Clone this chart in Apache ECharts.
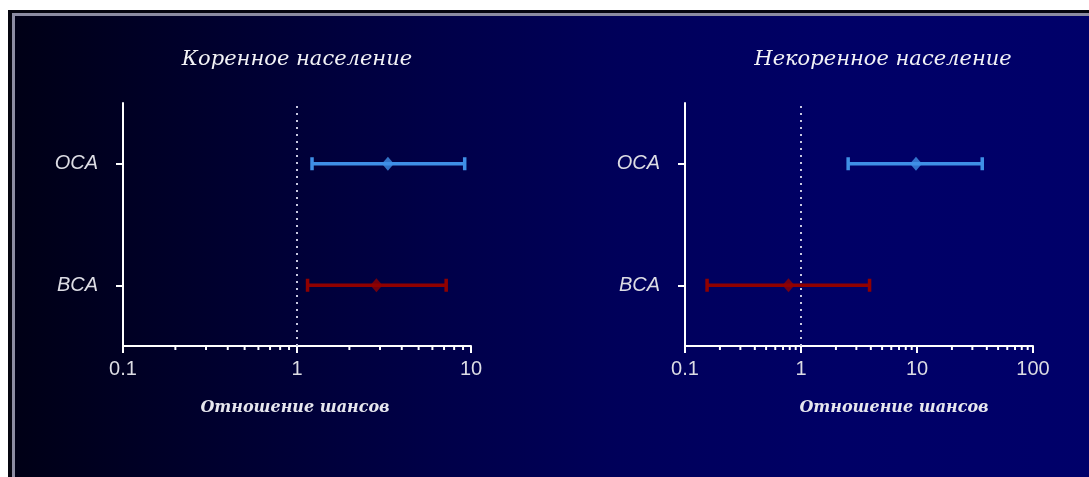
<!DOCTYPE html>
<html>
<head>
<meta charset="utf-8">
<script src="https://cdn.jsdelivr.net/npm/echarts@6/dist/echarts.min.js"></script>
<style>
  html, body { margin: 0; padding: 0; width: 1089px; height: 477px; overflow: hidden; background: #ffffff; }
  #frame { position: absolute; left: 8px; top: 10px; width: 1100px; height: 480px; background: #05050f; }
  #panel {
    position: absolute; left: 12px; top: 13px; width: 1100px; height: 480px;
    border-left: 3px solid #8c8ca2; border-top: 3px solid #8c8ca2;
    background: linear-gradient(to right, #000016 0%, #00002e 18%, #000048 38%, #00005a 55%, #000066 75%, #00006a 100%);
  }
  #chart { position: absolute; left: 0; top: 0; width: 1089px; height: 477px; }
</style>
</head>
<body>
<div id="frame"></div>
<div id="panel"></div>
<div id="chart"></div>
<script>
// Odds ratios with 95% CI, rows listed bottom to top
const categories = ['BCA', 'OCA'];

// Коренное население
const nativeOR = [2.86, 3.33];
const nativeLow = [1.15, 1.22];
const nativeHigh = [7.2, 9.2];

// Некоренное население
const nonNativeOR = [0.78, 9.8];
const nonNativeLow = [0.155, 2.55];
const nonNativeHigh = [3.9, 36.5];

// log axis ranges and the minor tick values between decades
const leftRange = [0.1, 10];
const rightRange = [0.1, 100];
const leftMinorTicks = [0.2, 0.3, 0.4, 0.5, 0.6, 0.7, 0.8, 0.9, 2, 3, 4, 5, 6, 7, 8, 9];
const rightMinorTicks = [0.2, 0.3, 0.4, 0.5, 0.6, 0.7, 0.8, 0.9, 2, 3, 4, 5, 6, 7, 8, 9,
                         20, 30, 40, 50, 60, 70, 80, 90];

const titles = ['Коренное население', 'Некоренное население'];
const axisTitle = 'Отношение шансов';

const rowColors = { BCA: '#900000', OCA: '#3f8fe6' };
const labelColor = '#dcdce4';
const sansFont = '"Liberation Sans", Arial, sans-serif';
const serifFont = '"DejaVu Serif", "Liberation Serif", serif';

const chart = echarts.init(document.getElementById('chart'), null, { renderer: 'canvas' });

function xAxisFor(gridIndex, range) {
  return {
    type: 'log', logBase: 10, gridIndex, min: range[0], max: range[1],
    axisLine: { show: true, lineStyle: { color: '#ffffff', width: 2 } },
    axisTick: { show: true, length: 7, lineStyle: { color: '#ffffff', width: 2 } },
    axisLabel: { color: labelColor, fontFamily: sansFont, fontSize: 20, margin: 13 },
    splitLine: { show: false },
    minorTick: { show: false }
  };
}

function yAxisFor(gridIndex) {
  return {
    type: 'category', gridIndex, data: categories,
    axisLine: { show: true, lineStyle: { color: '#ffffff', width: 2 } },
    axisTick: { show: true, alignWithLabel: true, length: 7, lineStyle: { color: '#ffffff', width: 2 } },
    axisLabel: { color: labelColor, fontFamily: sansFont, fontStyle: 'italic', fontSize: 20, margin: 25 },
    splitLine: { show: false }
  };
}

// horizontal CI whisker with end caps
function ciRenderer(params, api) {
  const row = api.value(2);
  const p1 = api.coord([api.value(0), row]);
  const p2 = api.coord([api.value(1), row]);
  const color = rowColors[categories[row]];
  const cap = 6.5;
  const style = { stroke: color, lineWidth: 3.5 };
  return {
    type: 'group',
    children: [
      { type: 'line', shape: { x1: p1[0], y1: p1[1], x2: p2[0], y2: p2[1] }, style },
      { type: 'line', shape: { x1: p1[0], y1: p1[1] - cap, x2: p1[0], y2: p1[1] + cap }, style },
      { type: 'line', shape: { x1: p2[0], y1: p2[1] - cap, x2: p2[0], y2: p2[1] + cap }, style }
    ]
  };
}

// short outward marks on the log axis between decades
function minorTickRenderer(params, api) {
  const x = api.coord([api.value(0), 0])[0];
  const yBase = params.coordSys.y + params.coordSys.height;
  return {
    type: 'line',
    shape: { x1: x, y1: yBase, x2: x, y2: yBase + 4 },
    style: { stroke: '#ffffff', lineWidth: 2 }
  };
}

function seriesFor(idx, or, low, high, minor) {
  return [
    {
      type: 'custom', xAxisIndex: idx, yAxisIndex: idx, silent: true, clip: false,
      renderItem: ciRenderer,
      data: categories.map((c, i) => [low[i], high[i], i]),
      z: 3
    },
    {
      type: 'scatter', xAxisIndex: idx, yAxisIndex: idx, silent: true,
      symbol: 'diamond', symbolSize: [12, 14],
      data: categories.map((c, i) => ({ value: [or[i], c], itemStyle: { color: rowColors[c] } })),
      z: 4,
      markLine: {
        silent: true, symbol: 'none',
        label: { show: false },
        lineStyle: { color: '#c8c8e0', width: 2, type: [2, 5] },
        data: [{ xAxis: 1 }]
      }
    },
    {
      type: 'custom', xAxisIndex: idx, yAxisIndex: idx, silent: true, clip: false,
      renderItem: minorTickRenderer,
      data: minor.map(v => [v, 0]),
      z: 2
    }
  ];
}

const option = {
  backgroundColor: 'transparent',
  animation: false,
  grid: [
    { left: 123, top: 103, width: 348, height: 243 },
    { left: 685, top: 103, width: 348, height: 243 }
  ],
  xAxis: [xAxisFor(0, leftRange), xAxisFor(1, rightRange)],
  yAxis: [yAxisFor(0), yAxisFor(1)],
  graphic: [
    { type: 'text', x: 297, y: 60, style: { text: titles[0], fill: '#f2f2f6', font: 'italic 21px ' + serifFont, align: 'center', verticalAlign: 'middle' } },
    { type: 'text', x: 883, y: 60, style: { text: titles[1], fill: '#f2f2f6', font: 'italic 21px ' + serifFont, align: 'center', verticalAlign: 'middle' } },
    { type: 'text', x: 295, y: 408, style: { text: axisTitle, fill: '#e6e6ee', font: 'italic bold 16px ' + serifFont, align: 'center', verticalAlign: 'middle' } },
    { type: 'text', x: 894, y: 408, style: { text: axisTitle, fill: '#e6e6ee', font: 'italic bold 16px ' + serifFont, align: 'center', verticalAlign: 'middle' } }
  ],
  series: [
    ...seriesFor(0, nativeOR, nativeLow, nativeHigh, leftMinorTicks),
    ...seriesFor(1, nonNativeOR, nonNativeLow, nonNativeHigh, rightMinorTicks)
  ]
};

chart.setOption(option);
</script>
</body>
</html>
